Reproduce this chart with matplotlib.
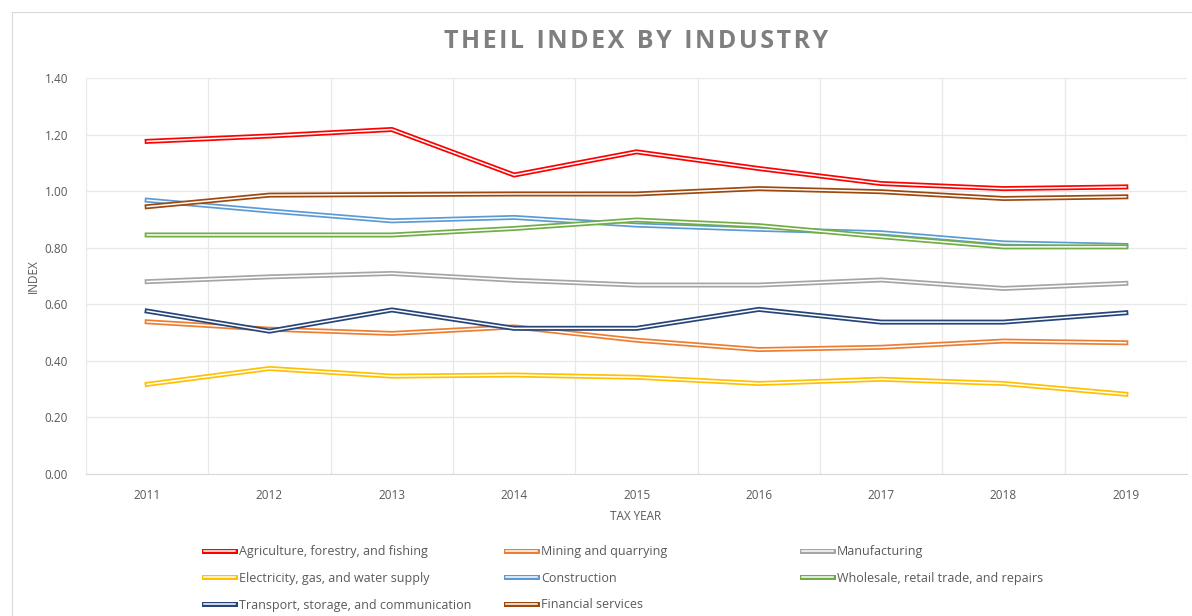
import matplotlib.pyplot as plt
from matplotlib.lines import Line2D

# Datos
years = ["2011", "2012", "2013", "2014", "2015", "2016", "2017", "2018", "2019"]

agriculture = [1.176, 1.195, 1.218, 1.057, 1.139, 1.080, 1.027, 1.009, 1.015]
mining = [0.538, 0.512, 0.497, 0.520, 0.473, 0.440, 0.448, 0.470, 0.464]
manufacturing = [0.680, 0.697, 0.709, 0.685, 0.668, 0.668, 0.686, 0.656, 0.674]
electricity = [0.317, 0.373, 0.346, 0.350, 0.342, 0.320, 0.335, 0.320, 0.282]
construction = [0.968, 0.930, 0.895, 0.907, 0.880, 0.865, 0.853, 0.817, 0.808]
wholesale = [0.845, 0.845, 0.845, 0.868, 0.898, 0.878, 0.839, 0.803, 0.803]
transport = [0.576, 0.505, 0.580, 0.515, 0.515, 0.582, 0.537, 0.537, 0.570]
financial = [0.945, 0.986, 0.988, 0.990, 0.990, 1.009, 0.998, 0.974, 0.980]

series = [
    ("Agriculture, forestry, and fishing", agriculture, "#FF0000"),
    ("Mining and quarrying", mining, "#ED7D31"),
    ("Manufacturing", manufacturing, "#A5A5A5"),
    ("Electricity, gas, and water supply", electricity, "#FFC000"),
    ("Construction", construction, "#5B9BD5"),
    ("Wholesale, retail trade, and repairs", wholesale, "#70AD47"),
    ("Transport, storage, and communication", transport, "#264478"),
    ("Financial services", financial, "#9E480E"),
]

yticks = [0.0, 0.2, 0.4, 0.6, 0.8, 1.0, 1.2, 1.4]

W, H = 1192, 616
fig = plt.figure(figsize=(W / 100, H / 100), dpi=100)
ax = fig.add_axes([86 / W, 1 - 474 / H, (1187 - 86) / W, (474 - 78) / H])

x = list(range(len(years)))
handles = {}
for name, vals, color in series:
    ax.plot(x, vals, color=color, lw=3.6, solid_joinstyle="round", zorder=3)
    ax.plot(x, vals, color="white", lw=1.1, solid_joinstyle="round", zorder=3)
    handles[name] = (Line2D([], [], color=color, lw=3.6),
                     Line2D([], [], color="white", lw=1.1))

ax.set_xlim(-0.5, len(years) - 0.5)
ax.set_ylim(0, 1.4)
ax.set_xticks(x)
ax.set_xticklabels(years)
ax.set_xticks([i - 0.5 for i in range(len(years) + 1)], minor=True)
ax.set_yticks(yticks)
ax.set_yticklabels([f"{v:.2f}" for v in yticks])

ax.grid(axis="y", color="#E8E8E8", lw=0.9, zorder=0)
ax.grid(axis="x", which="minor", color="#E8E8E8", lw=0.9, zorder=0)
ax.tick_params(which="both", length=0)
ax.tick_params(axis="x", pad=11, labelsize=8.5, labelcolor="#595959")
ax.tick_params(axis="y", pad=13, labelsize=8.5, labelcolor="#595959")
for lab in ax.get_xticklabels() + ax.get_yticklabels():
    lab.set_fontfamily("Open Sans")
for side in ["top", "right", "left"]:
    ax.spines[side].set_visible(False)
ax.spines["bottom"].set_color("#D9D9D9")

fig.text(636 / W, 1 - 42 / H, "T H E I L   I N D E X   B Y   I N D U S T R Y".replace("   ", "\u2002").replace(" ", "\u200a"),
         ha="center", va="center", fontsize=18, fontweight="bold",
         color="#7F7F7F", family="Open Sans")
fig.text(636 / W, 1 - 517 / H, "TAX YEAR", ha="center", va="center",
         fontsize=8.5, color="#595959", family="Open Sans")
fig.text(33 / W, 1 - 276 / H, "INDEX", ha="center", va="center",
         rotation=90, fontsize=8.5, color="#595959", family="Open Sans")

# Leyenda en tres columnas de ancho fijo
columns = [
    ["Agriculture, forestry, and fishing", "Electricity, gas, and water supply",
     "Transport, storage, and communication"],
    ["Mining and quarrying", "Construction", "Financial services"],
    ["Manufacturing", "Wholesale, retail trade, and repairs"],
]
col_x = [204, 506, 802]
for cx, names in zip(col_x, columns):
    leg = fig.legend([handles[n] for n in names], names, loc="upper left",
                     bbox_to_anchor=(cx / W, 1 - 545 / H), frameon=False,
                     prop={"family": "Open Sans", "size": 9}, labelcolor="#595959",
                     handlelength=2.5, handletextpad=0.3, labelspacing=1.1,
                     borderaxespad=0, borderpad=0)

# Borde del gráfico
fig.add_artist(Line2D([12 / W, 12 / W], [0, 1 - 12 / H], color="#D9D9D9", lw=0.8))
fig.add_artist(Line2D([12 / W, 1], [1 - 12 / H, 1 - 12 / H], color="#D9D9D9", lw=0.8))

fig.savefig("out.png", dpi=100)
